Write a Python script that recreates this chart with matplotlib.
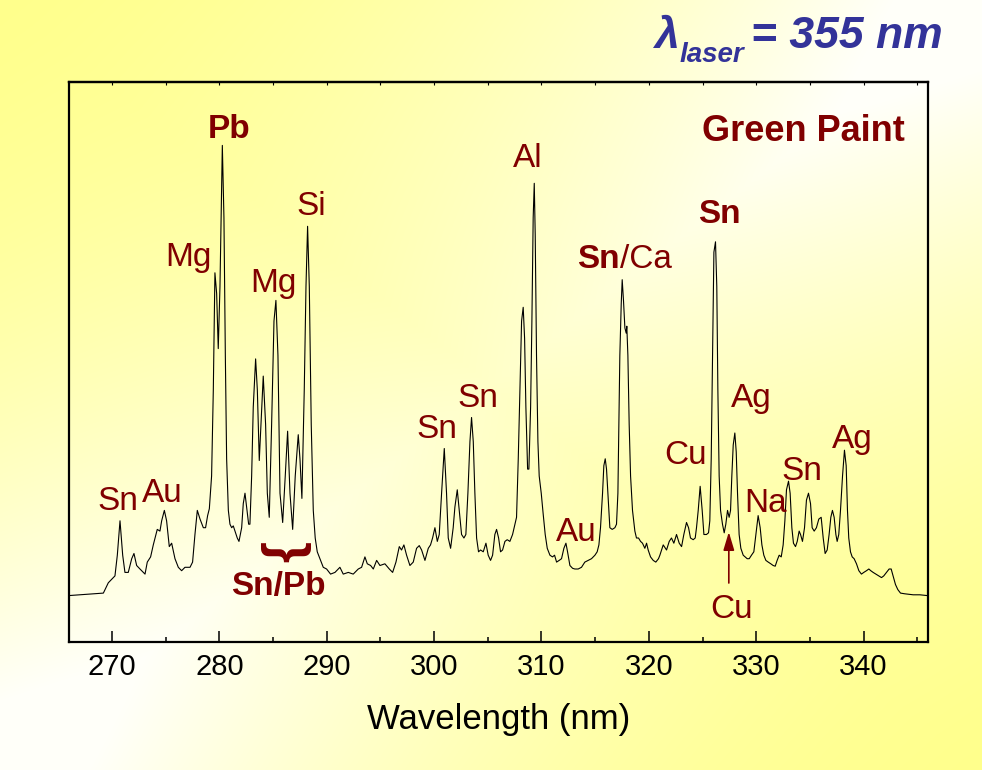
import numpy as np
import matplotlib
matplotlib.use("Agg")
import matplotlib.pyplot as plt

plt.rcParams['font.family'] = ['Liberation Sans', 'DejaVu Sans']

# ---------------- data ----------------
wavelength = [
    266.09, 269.20, 269.66, 269.97, 270.28, 270.50, 270.75, 271.00, 271.21, 271.52,
    271.84, 272.05, 272.30, 272.61, 273.08, 273.29, 273.60, 273.85, 274.22, 274.47,
    274.63, 274.88, 275.09, 275.34, 275.56, 275.87, 276.18, 276.49, 276.80, 277.27,
    277.51, 277.73, 277.95, 278.20, 278.51, 278.72, 278.91, 279.07, 279.28, 279.44,
    279.59, 279.75, 279.90, 280.06, 280.28, 280.43, 280.56, 280.68, 280.84, 280.99,
    281.15, 281.30, 281.46, 281.67, 281.83, 282.08, 282.23, 282.39, 282.54, 282.73,
    282.85, 283.01, 283.16, 283.38, 283.54, 283.72, 283.88, 284.09, 284.31, 284.47,
    284.65, 284.87, 285.09, 285.27, 285.46, 285.65, 285.90, 286.14, 286.36, 286.58,
    286.83, 287.07, 287.35, 287.51, 287.69, 287.91, 288.07, 288.22, 288.38, 288.56,
    288.75, 288.93, 289.12, 289.37, 289.68, 289.99, 290.36, 290.77, 291.23, 291.54,
    292.01, 292.47, 292.94, 293.25, 293.56, 293.78, 294.09, 294.34, 294.65, 294.96,
    295.42, 295.83, 296.14, 296.45, 296.76, 296.97, 297.19, 297.44, 297.75, 298.06,
    298.37, 298.62, 298.84, 299.15, 299.46, 299.67, 299.86, 300.08, 300.30, 300.48,
    300.70, 300.95, 301.16, 301.32, 301.54, 301.78, 301.94, 302.16, 302.34, 302.56,
    302.78, 302.96, 303.15, 303.34, 303.49, 303.65, 303.80, 303.96, 304.14, 304.33,
    304.58, 304.83, 305.04, 305.26, 305.45, 305.66, 305.82, 306.01, 306.19, 306.38,
    306.60, 306.81, 307.06, 307.31, 307.53, 307.68, 307.84, 307.99, 308.15, 308.30,
    308.43, 308.55, 308.71, 308.83, 308.99, 309.11, 309.23, 309.33, 309.42, 309.54,
    309.67, 309.79, 309.98, 310.16, 310.35, 310.54, 310.79, 311.03, 311.22, 311.41,
    311.65, 311.87, 312.09, 312.28, 312.43, 312.65, 312.90, 313.11, 313.42, 313.73,
    314.04, 314.35, 314.66, 314.98, 315.19, 315.35, 315.50, 315.69, 315.81, 315.94,
    316.06, 316.22, 316.37, 316.59, 316.84, 316.99, 317.12, 317.21, 317.30, 317.43,
    317.52, 317.64, 317.77, 317.89, 317.95, 318.05, 318.17, 318.30, 318.48, 318.70,
    318.85, 319.04, 319.23, 319.41, 319.63, 319.79, 319.94, 320.16, 320.41, 320.65,
    320.90, 321.03, 321.34, 321.65, 321.90, 322.11, 322.33, 322.58, 322.83, 323.05,
    323.26, 323.51, 323.70, 323.88, 324.13, 324.32, 324.44, 324.60, 324.78, 324.97,
    325.13, 325.37, 325.56, 325.68, 325.81, 325.93, 326.06, 326.21, 326.33, 326.43,
    326.55, 326.68, 326.86, 327.02, 327.17, 327.33, 327.48, 327.61, 327.73, 327.86,
    328.01, 328.14, 328.26, 328.41, 328.57, 328.79, 328.97, 329.16, 329.35, 329.56,
    329.78, 329.97, 330.18, 330.37, 330.53, 330.71, 330.90, 331.12, 331.36, 331.58,
    331.77, 331.95, 332.14, 332.33, 332.51, 332.67, 332.82, 333.01, 333.16, 333.32,
    333.47, 333.66, 333.82, 334.00, 334.13, 334.31, 334.50, 334.68, 334.87, 335.06,
    335.21, 335.40, 335.61, 335.83, 336.05, 336.24, 336.42, 336.61, 336.79, 336.95,
    337.10, 337.26, 337.42, 337.54, 337.69, 337.85, 338.04, 338.22, 338.38, 338.50,
    338.62, 338.78, 338.94, 339.12, 339.34, 339.56, 339.80, 340.02, 340.27, 340.49,
    340.67, 340.89, 341.14, 341.39, 341.67, 341.88, 342.13, 342.38, 342.57, 342.75,
    342.97, 343.19, 343.44, 343.84, 344.62, 345.24, 345.86,
]

intensity = [
    46.5, 48.9, 59.2, 62.7, 66.1, 86.8, 121.2, 86.8, 69.6, 69.6,
    83.3, 88.5, 76.5, 73.0, 67.9, 79.9, 85.1, 97.1, 112.6, 110.9,
    121.2, 131.6, 121.2, 95.4, 98.8, 83.3, 74.7, 71.3, 74.7, 74.7,
    79.9, 107.5, 131.6, 123.0, 114.3, 114.3, 126.4, 133.3, 166.0, 252.1,
    369.2, 348.5, 293.4, 355.4, 496.6, 424.3, 286.5, 183.2, 131.6, 117.8,
    114.3, 116.1, 110.9, 104.0, 100.6, 114.3, 138.4, 148.8, 135.0, 117.8,
    117.8, 166.0, 234.9, 283.1, 252.1, 181.5, 217.6, 265.9, 217.6, 148.8,
    124.7, 217.6, 321.0, 341.6, 286.5, 148.8, 119.5, 166.0, 210.8, 148.8,
    112.6, 166.0, 207.3, 183.2, 143.6, 252.1, 355.4, 415.7, 355.4, 217.6,
    131.6, 104.0, 90.2, 83.3, 74.7, 73.0, 67.9, 69.6, 74.7, 67.9,
    69.6, 67.9, 73.0, 74.7, 85.1, 78.2, 76.5, 73.0, 81.6, 76.5,
    78.2, 73.0, 69.6, 79.9, 95.4, 92.0, 97.1, 86.8, 76.5, 79.9,
    93.7, 96.4, 92.0, 81.6, 93.7, 97.1, 104.0, 114.3, 100.6, 107.5,
    148.8, 193.5, 148.8, 104.0, 93.7, 114.3, 135.0, 152.2, 131.6, 107.5,
    104.0, 107.5, 148.8, 200.4, 224.5, 200.4, 148.8, 104.0, 90.2, 92.0,
    90.2, 98.8, 86.8, 81.6, 86.8, 107.5, 112.6, 104.0, 90.2, 92.0,
    100.6, 102.3, 100.6, 107.5, 117.8, 124.7, 183.2, 252.1, 321.0, 334.7,
    303.7, 234.9, 172.9, 172.9, 234.9, 321.0, 424.3, 458.7, 407.0, 286.5,
    200.4, 166.0, 148.8, 128.1, 107.5, 93.7, 86.8, 85.1, 86.8, 79.9,
    81.6, 83.3, 93.7, 98.8, 90.2, 76.5, 73.7, 73.0, 73.0, 74.7,
    79.9, 81.6, 83.3, 86.8, 90.2, 97.1, 114.3, 148.8, 176.3, 183.2,
    172.9, 141.9, 114.3, 112.6, 114.3, 117.8, 148.8, 217.6, 286.5, 338.2,
    362.3, 341.6, 314.1, 308.9, 315.8, 286.5, 217.6, 166.0, 131.6, 110.9,
    104.0, 104.0, 100.6, 98.8, 93.7, 98.8, 92.0, 85.1, 81.6, 79.9,
    83.3, 86.8, 97.1, 92.0, 100.6, 104.0, 98.8, 107.5, 98.8, 95.4,
    107.5, 119.5, 114.3, 104.0, 102.3, 104.0, 114.3, 131.6, 155.7, 131.6,
    107.5, 107.5, 109.2, 121.2, 183.2, 286.5, 389.8, 400.2, 355.4, 252.1,
    166.0, 131.6, 117.8, 109.2, 117.8, 131.6, 124.7, 131.6, 166.0, 197.0,
    209.0, 190.1, 148.8, 107.5, 93.7, 86.8, 85.1, 83.3, 83.3, 86.8,
    90.2, 107.5, 126.4, 114.3, 97.1, 86.8, 81.6, 79.9, 78.2, 76.5,
    75.8, 81.6, 86.8, 85.1, 97.1, 121.2, 152.2, 160.8, 148.8, 114.3,
    98.8, 95.4, 100.6, 110.9, 107.5, 100.6, 114.3, 141.9, 148.8, 138.4,
    114.3, 110.9, 114.3, 122.9, 124.7, 104.0, 88.5, 92.0, 107.5, 124.7,
    131.6, 124.7, 107.5, 100.6, 107.5, 131.6, 166.0, 191.8, 176.3, 131.6,
    104.0, 90.2, 85.1, 83.3, 78.2, 71.3, 67.9, 69.6, 71.3, 73.0,
    71.3, 69.6, 67.9, 66.1, 64.4, 66.1, 69.6, 73.0, 73.0, 66.1,
    57.5, 52.4, 48.9, 48.2, 47.2, 47.2, 46.5,
]

x_ticks = [270, 280, 290, 300, 310, 320, 330, 340]
x_minor = [275, 285, 295, 305, 315, 325, 335, 345]

# element labels: text, wavelength anchor, intensity anchor (baseline)
labels_regular = [
    ("Sn", 270.56, 132), ("Au", 274.66, 140), ("Mg", 277.08, 376),
    ("Mg", 285.00, 350), ("Si", 288.53, 427), ("Sn", 300.26, 204),
    ("Sn", 304.08, 235), ("Al", 308.74, 475), ("Au", 313.21, 101),
    ("Cu", 323.45, 178), ("Ag", 329.59, 235), ("Na", 330.90, 130),
    ("Sn", 334.25, 162.5), ("Ag", 338.91, 194), ("Cu", 327.73, 24),
]
labels_bold = [
    ("Pb", 280.90, 503.5), ("Sn", 326.61, 419), ("Sn/Pb", 285.46, 47),
    ("Green Paint", 334.44, 501),
]
sn_ca_anchor = (317.27, 374.3)
brace_anchor = (286.02, 89)
arrow_tip = (327.45, 110)
arrow_tail = (327.45, 59)

RED = "#800000"
BLUE = "#333399"

# ---------------- figure ----------------
W, H = 982, 770
fig = plt.figure(figsize=(W / 100, H / 100), dpi=100)

# background gradient: yellow at top-left / bottom-right, light band across
yy, xx = np.mgrid[0:H, 0:W]
u = xx / W - yy / H
v = (xx / W + yy / H) / 2
band = np.clip(1 - np.abs(2 * v - 1), 0, 1) ** 1.3
w = np.clip(band * (0.55 + 0.45 * np.abs(u) * 1.4), 0, 1)
yellow = np.array([1.0, 1.0, 0.55])
white = np.array([1.0, 1.0, 0.98])
img = yellow * (1 - w[..., None]) + white * w[..., None]
bg = fig.add_axes([0, 0, 1, 1], zorder=-10)
bg.imshow(img, aspect="auto", extent=[0, 1, 0, 1], interpolation="bilinear")
bg.axis("off")

ax = fig.add_axes([69 / W, (H - 642) / H, (928 - 69) / W, (642 - 82) / H])
ax.set_facecolor("none")
ax.plot(wavelength, intensity, color="black", lw=0.8)
ax.set_xlim(266, 346)
ax.set_ylim(0, 560)
ax.set_yticks([])
ax.set_xticks(x_ticks)
ax.set_xticks(x_minor, minor=True)
ax.tick_params(axis="x", which="major", direction="in", length=8, width=1.1,
               labelsize=21, pad=8)
ax.tick_params(axis="x", which="minor", direction="in", length=3.6, width=1.1)
for s in ax.spines.values():
    s.set_linewidth(1.6)

sec = ax.secondary_xaxis("top")
sec.set_xticks(x_ticks)
sec.set_xticks(x_minor, minor=True)
sec.tick_params(axis="x", which="both", direction="in", length=2.5, width=0.8,
                labeltop=False)
sec.spines["top"].set_linewidth(1.6)

ax.set_xlabel("Wavelength (nm)", fontsize=25, labelpad=16)

for txt, xv, yv in labels_regular:
    ax.text(xv, yv, txt, color=RED, fontsize=24, ha="center", va="baseline")
for txt, xv, yv in labels_bold:
    size = 26 if txt == "Green Paint" else 24
    ax.text(xv, yv, txt, color=RED, fontsize=size, fontweight="bold",
            ha="center", va="baseline")

ax.text(sn_ca_anchor[0], sn_ca_anchor[1], "Sn", color=RED, fontsize=24,
        fontweight="bold", ha="right", va="baseline")
ax.text(sn_ca_anchor[0], sn_ca_anchor[1], "/Ca", color=RED, fontsize=24,
        ha="left", va="baseline")

ax.text(brace_anchor[0], brace_anchor[1], "}", color=RED, fontsize=39,
        fontweight="bold", rotation=-90, ha="center", va="center")

ax.annotate("", xy=arrow_tip, xytext=arrow_tail,
            arrowprops=dict(arrowstyle="-|>,head_length=1.1,head_width=0.33",
                            color=RED, lw=1.2, mutation_scale=10,
                            shrinkA=0, shrinkB=0))

# title: lambda_laser = 355 nm
fig.text(655 / W, 1 - 48 / H, "λ", color=BLUE, fontsize=32,
         fontweight="bold", fontstyle="italic", ha="left", va="baseline")
fig.text(680 / W, 1 - 62 / H, "laser", color=BLUE, fontsize=20,
         fontweight="bold", fontstyle="italic", ha="left", va="baseline")
fig.text(943 / W, 1 - 48 / H, "= 355 nm", color=BLUE, fontsize=32,
         fontweight="bold", fontstyle="italic", ha="right", va="baseline")

fig.savefig("out.png", dpi=100)
